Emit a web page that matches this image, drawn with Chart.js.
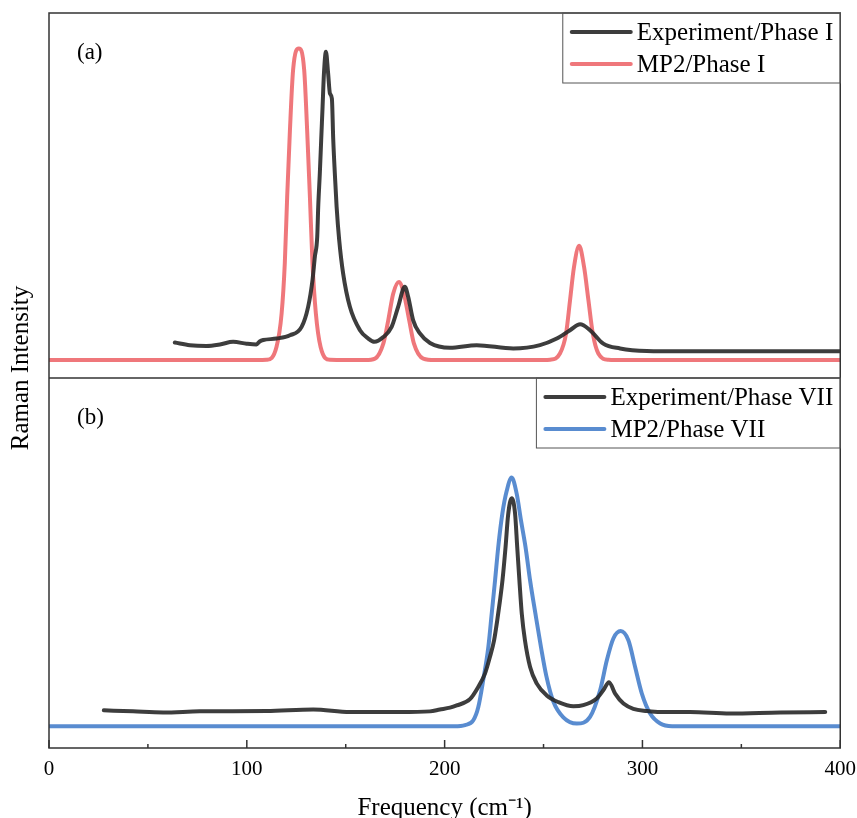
<!DOCTYPE html>
<html>
<head>
<meta charset="utf-8">
<script src="https://cdn.jsdelivr.net/npm/chart.js@4"></script>
<style>
  body { margin: 0; background: #fff; }
  canvas { display: block; }
</style>
</head>
<body>
<canvas id="ramanChart" width="857" height="818"></canvas>
<script>
// panel (a): phase I
const expIFreq = [63.6, 71.2, 79.6, 86.4, 93.1, 99.9, 104.9, 106.5, 108.3, 115.0, 121.8, 127.7, 131.0, 133.2, 134.4, 135.6, 136.1, 136.9, 137.6, 138.3, 139.0, 140.0, 141.1, 142.0, 143.0, 143.7, 144.5, 145.4, 146.7, 148.7, 152.1, 157.2, 161.4, 164.5, 169.0, 173.2, 176.5, 179.9, 181.6, 184.1, 187.5, 192.6, 202.7, 216.2, 234.7, 248.2, 256.7, 263.4, 268.5, 273.5, 280.2, 288.7, 302.2, 320, 400];
const expIInt = [9.7, 9.0, 8.8, 9.2, 9.9, 9.4, 9.2, 10.0, 10.4, 10.8, 11.7, 14.0, 19.5, 26.8, 33.2, 38.7, 46.9, 56.0, 65.2, 74.3, 83.5, 89.4, 83.5, 78.0, 76.6, 65.2, 56.0, 46.9, 37.8, 28.6, 19.5, 13.1, 10.8, 9.9, 11.2, 14.0, 19.5, 25.0, 22.2, 15.8, 12.2, 9.6, 8.3, 9.0, 8.1, 9.0, 10.8, 13.1, 14.7, 13.1, 9.4, 8.1, 7.4, 7.3, 7.3];

const mp2IFreq = [0, 105, 110, 115, 117.6, 119.2, 120.4, 121.8, 123.4, 126.3, 129.0, 130.5, 131.9, 133.2, 134.9, 137.3, 142, 160, 164.8, 169.0, 171.5, 174.0, 176.9, 179.4, 182.1, 184.5, 189.2, 195, 250, 253.3, 258.3, 261.4, 263.4, 265.4, 268.0, 270.5, 272.7, 274.9, 277.7, 282.8, 290, 400];
const mp2IInt = [4.9, 4.9, 5.0, 8.5, 17.7, 31.4, 49.6, 67.9, 84.4, 90.3, 84.4, 67.9, 49.6, 31.4, 17.7, 8.5, 5.0, 4.9, 5.3, 9.4, 15.8, 23.1, 26.3, 23.1, 15.8, 9.4, 5.3, 4.9, 4.9, 5.0, 6.7, 12.2, 21.3, 30.4, 36.2, 30.4, 21.3, 12.2, 6.7, 5.0, 4.9, 4.9];

// panel (b): phase VII
const expVIIFreq = [27.7, 42.5, 57.7, 76.2, 110.0, 133.6, 152.1, 177.4, 192.6, 197.6, 202.7, 206.1, 212.8, 217.0, 220.4, 222.9, 225.0, 226.6, 228.0, 229.3, 230.8, 232.1, 233.9, 235.6, 236.7, 237.8, 239.0, 240.6, 243.2, 246.6, 251.6, 257.5, 265.1, 270.1, 276.9, 280.2, 283.1, 286.2, 290.4, 295.4, 302.2, 308.9, 324.1, 344.3, 369.6, 392.4];
const expVIIInt = [10.2, 9.9, 9.6, 9.9, 10.0, 10.4, 9.7, 9.7, 9.9, 10.4, 10.9, 11.5, 13.2, 16.5, 20.1, 24.6, 29.1, 34.5, 39.9, 45.6, 54.3, 63.0, 67.5, 63.4, 54.3, 45.3, 36.3, 29.1, 21.9, 17.4, 14.2, 12.4, 11.3, 11.6, 13.4, 15.6, 17.8, 14.7, 12.0, 10.6, 10.0, 9.7, 9.7, 9.3, 9.6, 9.7];

const mp2VIIFreq = [0, 205, 210.3, 214.5, 217.0, 219.5, 222.1, 223.8, 225.5, 227.1, 229.2, 231.4, 233.9, 236.4, 238.6, 240.9, 243.2, 245.9, 248.7, 251.4, 255.0, 260.0, 266.8, 273.5, 278.6, 282.0, 285.3, 289.0, 292.9, 296.3, 299.7, 303.9, 309.0, 315, 400];
const mp2VIIInt = [5.9, 5.9, 6.2, 7.5, 11.0, 18.3, 27.3, 36.3, 45.3, 54.3, 63.4, 69.5, 73.1, 68.8, 61.5, 54.3, 45.3, 36.3, 27.3, 19.5, 12.5, 8.3, 6.6, 8.4, 15.6, 23.7, 29.6, 31.6, 29.1, 21.9, 14.7, 9.3, 6.6, 5.9, 5.9];

const xTicks = [0, 100, 200, 300, 400];
const panelNames = { yA: '(a)', yB: '(b)' };

const SERIF = '"Liberation Serif", "Times New Roman", serif';
const BLACK = 'rgba(40, 40, 40, 0.9)';
const RED = 'rgba(235, 85, 90, 0.8)';
const BLUE = 'rgba(60, 120, 200, 0.85)';

const toPoints = (xs, ys) => xs.map((x, i) => ({ x: x, y: ys[i] }));

const line = (label, xs, ys, color, axis) => ({
  label: label,
  data: toPoints(xs, ys),
  yAxisID: axis,
  borderColor: color,
  backgroundColor: color,
  borderWidth: 4,
  pointRadius: 0,
  showLine: true,
  cubicInterpolationMode: 'monotone',
  borderCapStyle: 'round',
  borderJoinStyle: 'round',
});

// frame, inward ticks, panel labels, boxed legends, y title
const framePlugin = {
  id: 'frame',
  afterDatasetsDraw(chart) {
    const { ctx, chartArea: area, scales } = chart;
    const panels = [scales.yA, scales.yB];
    const upper = scales.yA.top < scales.yB.top ? scales.yA : scales.yB;
    ctx.save();

    ctx.strokeStyle = '#333';
    ctx.lineWidth = 1.5;
    ctx.strokeRect(area.left, area.top, area.right - area.left, area.bottom - area.top);
    ctx.beginPath();
    ctx.moveTo(area.left, upper.bottom);
    ctx.lineTo(area.right, upper.bottom);
    ctx.stroke();

    // x ticks point inward
    scales.x.ticks.forEach(t => {
      const px = scales.x.getPixelForValue(t.value);
      const len = xTicks.includes(t.value) ? 8 : 4;
      ctx.beginPath();
      ctx.moveTo(px, area.bottom);
      ctx.lineTo(px, area.bottom - len);
      ctx.stroke();
    });

    ctx.fillStyle = '#000';
    ctx.font = '23px ' + SERIF;
    ctx.textBaseline = 'alphabetic';
    ctx.textAlign = 'left';
    panels.forEach(s => ctx.fillText(panelNames[s.id], area.left + 28, s.top + 46));

    // legends
    ctx.font = '25px ' + SERIF;
    panels.forEach(s => {
      const items = chart.data.datasets.filter(d => d.yAxisID === s.id);
      const textW = Math.max(...items.map(d => ctx.measureText(d.label).width));
      const boxW = 74 + textW + 7;
      const boxL = area.right - boxW;
      ctx.strokeStyle = '#555';
      ctx.lineWidth = 1;
      ctx.strokeRect(boxL, s.top, boxW, 70);
      items.forEach((d, j) => {
        const cy = s.top + 19 + j * 32;
        ctx.strokeStyle = d.borderColor;
        ctx.lineWidth = 4;
        ctx.lineCap = 'round';
        ctx.beginPath();
        ctx.moveTo(boxL + 9, cy);
        ctx.lineTo(boxL + 68, cy);
        ctx.stroke();
        ctx.fillStyle = '#000';
        ctx.textBaseline = 'middle';
        ctx.fillText(d.label, boxL + 74, cy + 1);
      });
    });

    // shared y title
    ctx.translate(21, 368);
    ctx.rotate(-Math.PI / 2);
    ctx.textAlign = 'center';
    ctx.textBaseline = 'middle';
    ctx.font = '25px ' + SERIF;
    ctx.fillStyle = '#000';
    ctx.fillText('Raman Intensity', 0, 0);
    ctx.restore();
  }
};

const ctx = document.getElementById('ramanChart').getContext('2d');
new Chart(ctx, {
  type: 'scatter',
  data: {
    datasets: [
      line('Experiment/Phase I', expIFreq, expIInt, BLACK, 'yA'),
      line('MP2/Phase I', mp2IFreq, mp2IInt, RED, 'yA'),
      line('Experiment/Phase VII', expVIIFreq, expVIIInt, BLACK, 'yB'),
      line('MP2/Phase VII', mp2VIIFreq, mp2VIIInt, BLUE, 'yB'),
    ],
  },
  options: {
    responsive: false,
    animation: false,
    layout: { padding: { left: 41, right: 11, top: 13, bottom: 0 } },
    plugins: {
      legend: { display: false },
      tooltip: { enabled: false },
    },
    scales: {
      x: {
        type: 'linear',
        min: 0,
        max: 400,
        grid: { display: false },
        border: { display: false },
        ticks: {
          stepSize: 50,
          autoSkip: false,
          maxRotation: 0,
          padding: 1,
          color: '#000',
          font: { family: SERIF, size: 21 },
          callback: v => (xTicks.includes(v) ? String(v) : ''),
        },
        title: {
          display: true,
          text: 'Frequency (cm\u207B\u00B9)',
          color: '#000',
          font: { family: SERIF, size: 25, lineHeight: 0.8 },
          padding: { top: 0, bottom: 0 },
        },
        afterFit: s => { s.height = 70; },
      },
      // listed first so it lands at the bottom of the stack
      yB: {
        type: 'linear',
        position: 'left',
        stack: 'panels',
        stackWeight: 370,
        min: 0,
        max: 100,
        grid: { display: false },
        border: { display: false },
        ticks: { display: false },
      },
      yA: {
        type: 'linear',
        position: 'left',
        stack: 'panels',
        stackWeight: 365,
        min: 0,
        max: 100,
        grid: { display: false },
        border: { display: false },
        ticks: { display: false },
      },
    },
  },
  plugins: [framePlugin],
});
</script>
</body>
</html>
